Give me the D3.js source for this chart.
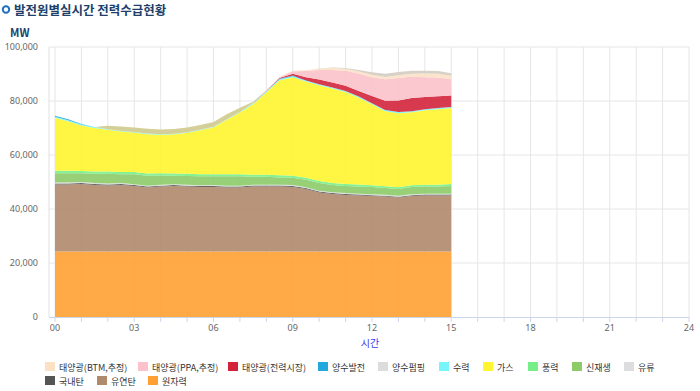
<!DOCTYPE html>
<html>
<head>
<meta charset="utf-8">
<script src="https://cdn.jsdelivr.net/npm/d3@7"></script>
<style>
  body { margin: 0; background: #fff; }
  svg { font-family: "Noto Sans CJK KR", "Noto Sans", sans-serif; }
</style>
</head>
<body>
<svg id="chart" width="700" height="391"></svg>
<script>
// hours of each sample (every 30 min, 00:00 ~ 15:00)
const times = [0, 0.5, 1, 1.5, 2, 2.5, 3, 3.5, 4, 4.5, 5, 5.5, 6, 6.5, 7, 7.5,
  8, 8.5, 9, 9.5, 10, 10.5, 11, 11.5, 12, 12.5, 13, 13.5, 14, 14.5, 15]

// MW per source
const nuclear = [24300, 24300, 24300, 24300, 24300, 24300, 24300, 24300, 24300, 24300, 24300, 24300, 24300, 24300, 24300, 24300,
  24300, 24300, 24300, 24300, 24300, 24300, 24300, 24300, 24300, 24300, 24300, 24300, 24300, 24300, 24300]
const bitCoal = [24800, 24800, 24950, 24600, 24400, 24600, 24200, 23650, 24000, 24200, 24000, 23850, 23850, 23650, 23650, 24000,
  24000, 24000, 23850, 23100, 21800, 21250, 20900, 20700, 20500, 20300, 19950, 20500, 20700, 20700, 20700]
const domCoal = [380, 380, 370, 370, 360, 360, 360, 350, 350, 350, 350, 350, 360, 360, 360, 370,
  370, 370, 360, 360, 350, 340, 340, 340, 330, 330, 330, 330, 330, 330, 330]
const oil = [340, 340, 340, 340, 340, 340, 340, 340, 340, 340, 340, 340, 340, 340, 340, 340,
  340, 340, 340, 340, 340, 340, 340, 340, 340, 340, 340, 340, 340, 340, 340]
const renew = [3450, 3450, 3250, 3450, 3650, 3250, 3650, 3650, 3450, 3100, 3250, 3250, 3250, 3450, 3450, 2900,
  2900, 2700, 2700, 2750, 2800, 2650, 2650, 2650, 2650, 2500, 2500, 2650, 2650, 2650, 2850]
const wind = [900, 900, 880, 870, 860, 850, 850, 840, 830, 820, 820, 810, 800, 800, 800, 790,
  790, 780, 780, 770, 760, 740, 720, 700, 690, 680, 670, 670, 680, 690, 700]
const gas = [19630, 18330, 16850, 16110, 15400, 15000, 14600, 14600, 14250, 14600, 15150, 16250, 17350, 20150, 22800, 26110,
  30560, 35190, 36480, 35560, 35500, 35000, 34070, 32220, 30000, 27780, 27410, 27040, 27590, 27960, 28150]
const hydro = [350, 350, 350, 350, 250, 200, 200, 200, 200, 200, 200, 200, 200, 200, 250, 350,
  380, 400, 400, 400, 400, 400, 400, 400, 400, 400, 400, 400, 400, 400, 400]
const pumpGen = [400, 400, 200, 0, 0, 0, 0, 0, 0, 0, 0, 0, 0, 0, 0, 0,
  0, 150, 200, 0, 0, 0, 0, 0, 0, 0, 0, 0, 0, 0, 0]
const solarMkt = [0, 0, 0, 0, 0, 0, 0, 0, 0, 0, 0, 0, 0, 0, 0, 30,
  100, 250, 700, 1200, 1700, 1800, 1900, 2100, 2600, 3500, 4300, 4900, 4500, 4400, 4300]
const solarPPA = [0, 0, 0, 0, 0, 0, 0, 0, 0, 0, 0, 0, 0, 0, 0, 50,
  200, 300, 900, 2300, 3500, 4700, 5600, 6400, 7000, 7900, 8300, 7900, 7300, 6900, 6000]
const solarBTM = [0, 0, 0, 0, 0, 0, 0, 0, 0, 0, 0, 0, 0, 0, 0, 20,
  100, 150, 200, 350, 500, 700, 700, 800, 900, 900, 1000, 1100, 1400, 1400, 1300]
const pumpLoad = [0, 0, 0, 0, 1250, 1650, 1700, 1800, 1700, 1700, 1750, 1750, 1800, 1800, 1550, 500,
  0, 0, 0, 0, 100, 200, 300, 500, 950, 1200, 1200, 1100, 1000, 1000, 950]

const xTicks = [0, 3, 6, 9, 12, 15, 18, 21, 24]
const yTicks = [0, 20000, 40000, 60000, 80000, 100000]

// legend order (top row first) and stack order (bottom first)
const series = [
  { key: '태양광(BTM,추정)', values: solarBTM, color: '#fbe1c4' },
  { key: '태양광(PPA,추정)', values: solarPPA, color: '#fcc2cb' },
  { key: '태양광(전력시장)', values: solarMkt, color: '#d3233b' },
  { key: '양수발전', values: pumpGen, color: '#22a8dc' },
  { key: '양수펌핑', values: pumpLoad, color: '#dcdcdc' },
  { key: '수력', values: hydro, color: '#77f5fb' },
  { key: '가스', values: gas, color: '#fff530' },
  { key: '풍력', values: wind, color: '#77ef88' },
  { key: '신재생', values: renew, color: '#8dcb68' },
  { key: '유류', values: oil, color: '#dddddd' },
  { key: '국내탄', values: domCoal, color: '#555555' },
  { key: '유연탄', values: bitCoal, color: '#b08a6c' },
  { key: '원자력', values: nuclear, color: '#ffa033' }
]
const stackOrder = ['원자력', '유연탄', '국내탄', '유류', '신재생', '풍력', '가스', '수력',
  '양수발전', '태양광(전력시장)', '태양광(PPA,추정)', '태양광(BTM,추정)', '양수펌핑']

const rows = times.map((t, i) => {
  const r = { t }
  series.forEach(s => { r[s.key] = s.values[i] })
  return r
})

const svg = d3.select('#chart')
const x = d3.scaleLinear().domain([0, 24]).range([55, 689])
const y = d3.scaleLinear().domain([0, 100000]).range([317, 47])

// title
svg.append('circle').attr('cx', 6).attr('cy', 9.5).attr('r', 3.2)
  .attr('fill', 'none').attr('stroke', '#1f6fc0').attr('stroke-width', 2)
svg.append('text').attr('x', 14).attr('y', 15)
  .attr('font-size', 12.5).attr('font-weight', 'bold').attr('fill', '#203f6b')
  .text('발전원별실시간 전력수급현황')
svg.append('text').attr('x', 10).attr('y', 37)
  .attr('font-size', 11).attr('font-weight', 'bold').attr('fill', '#203f6b')
  .text('MW')

// grid
const grid = svg.append('g')
grid.selectAll('.vg').data(d3.range(0, 25)).join('line')
  .attr('x1', d => x(d)).attr('x2', d => x(d))
  .attr('y1', y(100000)).attr('y2', y(0))
  .attr('stroke', '#e6e6e6')
grid.selectAll('.hg').data(yTicks.slice(1)).join('line')
  .attr('x1', 49).attr('x2', 689)
  .attr('y1', d => y(d)).attr('y2', d => y(d))
  .attr('stroke', '#e6e6e6')

// pumping band shows tan at dawn and grey at midday
const defs = svg.append('defs')
const grad = defs.append('linearGradient').attr('id', 'pumpFill')
  .attr('gradientUnits', 'userSpaceOnUse')
  .attr('x1', x(8)).attr('x2', x(10)).attr('y1', 0).attr('y2', 0)
grad.append('stop').attr('offset', 0).attr('stop-color', '#d4ce98')
grad.append('stop').attr('offset', 1).attr('stop-color', '#d8d1c8')

const stacked = d3.stack().keys(stackOrder)(rows)
const colorOf = {}
series.forEach(s => { colorOf[s.key] = s.color })

const area = d3.area()
  .x(d => x(d.data.t))
  .y0(d => y(d[0]))
  .y1(d => y(d[1]))

svg.append('g').selectAll('path').data(stacked).join('path')
  .attr('d', area)
  .attr('fill', d => d.key === '양수펌핑' ? 'url(#pumpFill)' : colorOf[d.key])
  .attr('fill-opacity', d => d.key === '양수펌핑' ? 1 : 0.9)

// axes
svg.append('line').attr('x1', 49).attr('x2', 49).attr('y1', y(100000)).attr('y2', y(0))
  .attr('stroke', '#e0e0e0')
svg.append('line').attr('x1', 49).attr('x2', 689).attr('y1', y(0) + 0.5).attr('y2', y(0) + 0.5)
  .attr('stroke', '#ccd6eb')
svg.append('g').selectAll('line').data(d3.range(0, 25)).join('line')
  .attr('x1', d => x(d)).attr('x2', d => x(d))
  .attr('y1', y(0)).attr('y2', y(0) + 5)
  .attr('stroke', '#ccd6eb')

svg.append('g').selectAll('text').data(yTicks).join('text')
  .attr('x', 38).attr('y', d => y(d) + 3)
  .attr('text-anchor', 'end').attr('font-size', 9).attr('fill', '#666')
  .attr('font-family', '"Noto Sans", sans-serif')
  .text(d3.format(','))

svg.append('g').selectAll('text').data(xTicks).join('text')
  .attr('x', d => x(d)).attr('y', 331)
  .attr('text-anchor', 'middle').attr('font-size', 9).attr('fill', '#666')
  .attr('font-family', '"Noto Sans", sans-serif')
  .text(d => String(d).padStart(2, '0'))

svg.append('text').attr('x', 370).attr('y', 347)
  .attr('text-anchor', 'middle').attr('font-size', 10).attr('fill', '#3a3aee')
  .text('시간')

// legend
const legendPos = [[45, 367], [138, 367], [228, 367], [318, 367], [378, 367], [439, 367],
  [483, 367], [528, 367], [572, 367], [624, 367], [45, 381], [97, 381], [148, 381]]
const lg = svg.append('g').selectAll('g').data(series).join('g')
  .attr('transform', (d, i) => `translate(${legendPos[i][0]},${legendPos[i][1]})`)
lg.append('rect').attr('x', 0).attr('y', -5).attr('width', 10).attr('height', 9)
  .attr('fill', d => d.color)
lg.append('text').attr('x', 14).attr('y', 3.5)
  .attr('font-size', 9).attr('fill', '#333')
  .text(d => d.key)
</script>
</body>
</html>
